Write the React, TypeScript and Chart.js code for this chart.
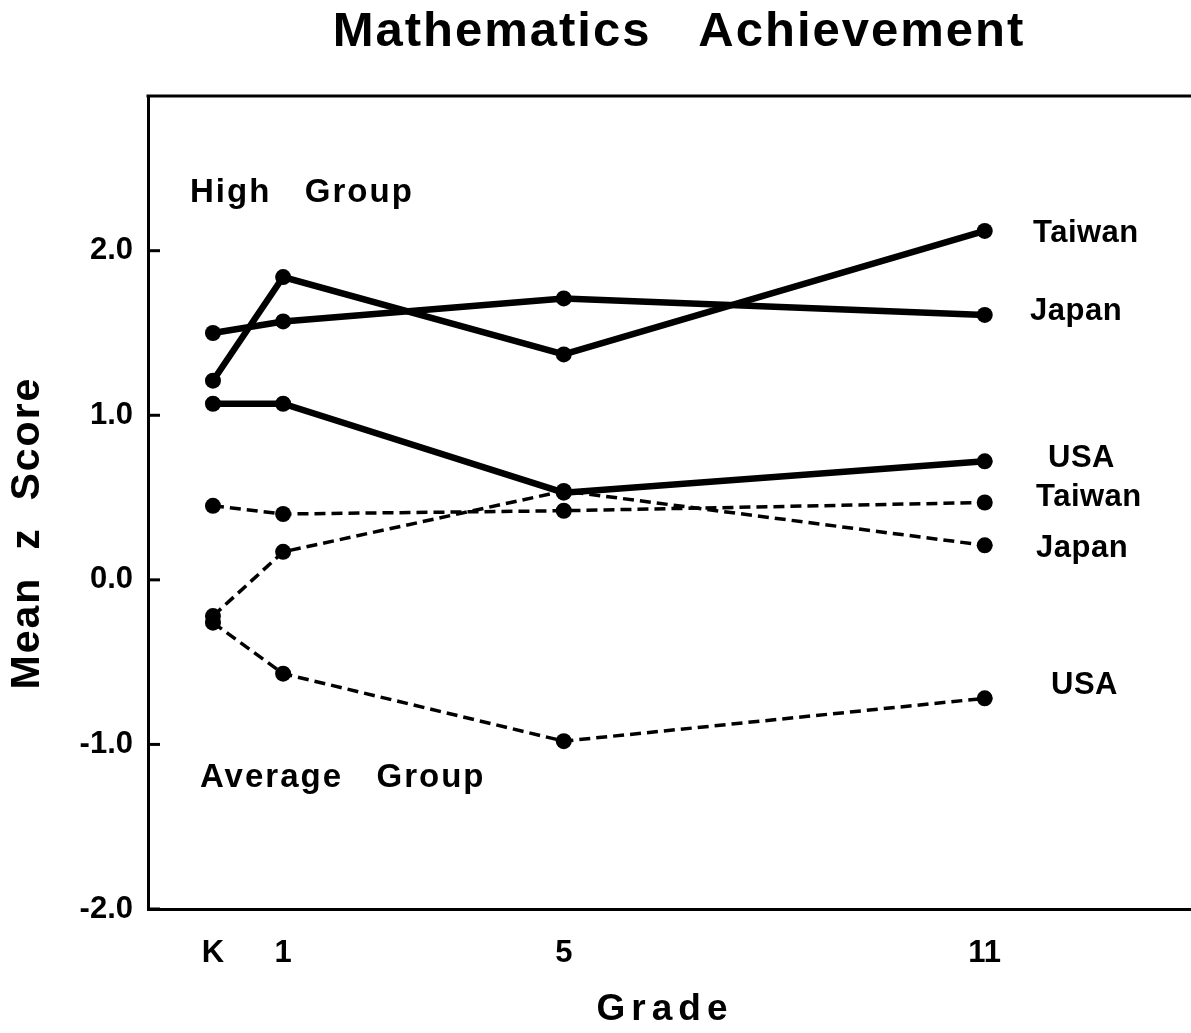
import React, { useEffect, useRef } from "react";
import { Chart, registerables } from "chart.js";

Chart.register(...registerables);

// ---- data ----
const grades = [0, 1, 5, 11];
const gradeTickLabels = ["K", "1", "5", "11"];
const yTickValues = [-2, -1, 0, 1, 2];

const highTaiwan = [1.21, 1.84, 1.37, 2.12];
const highJapan = [1.5, 1.57, 1.71, 1.61];
const highUSA = [1.07, 1.07, 0.53, 0.72];

const avgTaiwan = [0.45, 0.4, 0.42, 0.47];
const avgJapan = [-0.22, 0.17, 0.54, 0.21];
const avgUSA = [-0.26, -0.57, -0.98, -0.72];

const titleText = "Mathematics   Achievement";
const xTitle = "Grade";
const yTitle = "Mean  z  Score";
const highGroupLabel = "High   Group";
const avgGroupLabel = "Average   Group";
const countryLabels = ["Taiwan", "Japan", "USA", "Taiwan", "Japan", "USA"];

const FONT = '"Liberation Sans", Arial, Helvetica, sans-serif';

function toPoints(vals: number[]) {
  return grades.map((g, i) => ({ x: g, y: vals[i] }));
}

function solid(label: string, vals: number[]) {
  return {
    label,
    data: toPoints(vals),
    borderColor: "#000",
    backgroundColor: "#000",
    borderWidth: 6.5,
    pointRadius: 8,
    pointBackgroundColor: "#000",
    pointBorderWidth: 0,
    fill: false,
    tension: 0,
  };
}
function dashed(label: string, vals: number[]) {
  return {
    label,
    data: toPoints(vals),
    borderColor: "#000",
    backgroundColor: "#000",
    borderWidth: 3.5,
    borderDash: [11, 6],
    pointRadius: 8,
    pointBackgroundColor: "#000",
    pointBorderWidth: 0,
    fill: false,
    tension: 0,
  };
}

const labelPositions = [
  { x: 1033, y: 233 },
  { x: 1030, y: 311 },
  { x: 1048, y: 458 },
  { x: 1036, y: 497 },
  { x: 1036, y: 548 },
  { x: 1051, y: 685 },
];

const decorPlugin = {
  id: "decor",
  afterDraw(chart: any) {
    const ctx = chart.ctx as CanvasRenderingContext2D;
    const area = chart.chartArea;
    const yScale = chart.scales.y;
    ctx.save();
    // top border
    ctx.strokeStyle = "#000";
    ctx.lineWidth = 3;
    ctx.beginPath();
    ctx.moveTo(area.left - 1.5, area.top);
    ctx.lineTo(chart.width, area.top);
    ctx.stroke();
    // inward y ticks
    ctx.lineWidth = 3;
    for (const v of yTickValues) {
      const py = yScale.getPixelForValue(v);
      ctx.beginPath();
      ctx.moveTo(area.left, py);
      ctx.lineTo(area.left + 12, py);
      ctx.stroke();
    }
    ctx.fillStyle = "#000";
    // title
    (ctx as any).letterSpacing = "2px";
    ctx.font = `bold 49px ${FONT}`;
    ctx.textAlign = "center";
    ctx.textBaseline = "middle";
    ctx.fillText(titleText, 679, 32);
    // x title
    (ctx as any).letterSpacing = "6px";
    ctx.font = `bold 37px ${FONT}`;
    ctx.fillText(xTitle, 665, 1010);
    // y title
    (ctx as any).letterSpacing = "2px";
    ctx.save();
    ctx.translate(28, 533);
    ctx.rotate(-Math.PI / 2);
    ctx.font = `bold 41px ${FONT}`;
    ctx.fillText(yTitle, 0, 0);
    ctx.restore();
    // group labels
    ctx.textAlign = "left";
    (ctx as any).letterSpacing = "2px";
    ctx.font = `bold 33px ${FONT}`;
    ctx.fillText(highGroupLabel, 190, 193);
    ctx.fillText(avgGroupLabel, 200, 778);
    // country labels
    (ctx as any).letterSpacing = "0.5px";
    ctx.font = `bold 31px ${FONT}`;
    countryLabels.forEach((t, i) => {
      ctx.fillText(t, labelPositions[i].x, labelPositions[i].y);
    });
    ctx.restore();
  },
};

export default function App() {
  const ref = useRef<HTMLCanvasElement | null>(null);
  useEffect(() => {
    if (!ref.current) return;
    const chart = new Chart(ref.current, {
      type: "line",
      data: {
        datasets: [
          solid("Taiwan (High)", highTaiwan),
          solid("Japan (High)", highJapan),
          solid("USA (High)", highUSA),
          dashed("Taiwan (Average)", avgTaiwan),
          dashed("Japan (Average)", avgJapan),
          dashed("USA (Average)", avgUSA),
        ] as any,
      },
      options: {
        animation: false,
        responsive: false,
        devicePixelRatio: 1,
        layout: { autoPadding: false, padding: { top: 96, right: 0, left: 0, bottom: 0 } },
        plugins: {
          legend: { display: false },
          tooltip: { enabled: false },
          title: { display: false },
        },
        scales: {
          x: {
            type: "linear",
            min: -0.926,
            max: 13.94,
            afterBuildTicks: (s: any) => {
              s.ticks = grades.map((v) => ({ value: v }));
            },
            afterFit: (s: any) => {
              s.height = 124;
              s.paddingLeft = 0;
              s.paddingRight = 0;
            },
            grid: { display: false, drawTicks: false },
            border: { display: true, color: "#000", width: 3 },
            ticks: {
              color: "#000",
              font: { family: FONT, size: 31, weight: "bold" },
              padding: 26,
              maxRotation: 0,
              autoSkip: false,
              callback: (v: any) => {
                const i = grades.indexOf(Number(v));
                return i >= 0 ? gradeTickLabels[i] : "";
              },
            },
          },
          y: {
            type: "linear",
            min: -2,
            max: 2.94,
            afterBuildTicks: (s: any) => {
              s.ticks = yTickValues.map((v) => ({ value: v }));
            },
            afterFit: (s: any) => {
              s.width = 148;
              s.paddingTop = 0;
              s.paddingBottom = 0;
            },
            grid: { display: false, drawTicks: false },
            border: { display: true, color: "#000", width: 3 },
            ticks: {
              color: "#000",
              font: { family: FONT, size: 31, weight: "bold" },
              padding: 15,
              callback: (v: any) => Number(v).toFixed(1),
            },
          },
        },
      } as any,
      plugins: [decorPlugin],
    });
    return () => chart.destroy();
  }, []);
  return (
    <div style={{ position: "fixed", left: 0, top: 0, width: 1191, height: 1033, background: "#fff" }}>
      <canvas ref={ref} width={1191} height={1033} style={{ display: "block" }} />
    </div>
  );
}
